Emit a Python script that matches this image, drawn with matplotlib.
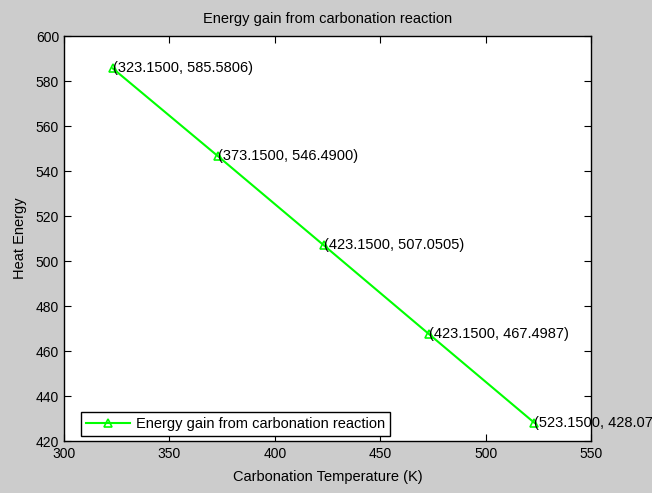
import matplotlib
matplotlib.use('Agg')
import matplotlib.pyplot as plt

# Data
temperature = [323.15, 373.15, 423.15, 473.15, 523.15]
heat_energy = [585.5806, 546.4900, 507.0505, 467.4987, 428.0707]
point_labels = ['(323.1500, 585.5806)', '(373.1500, 546.4900)', '(423.1500, 507.0505)',
                '(423.1500, 467.4987)', '(523.1500, 428.0707)']
x_ticks = [300, 350, 400, 450, 500, 550]
y_ticks = [420, 440, 460, 480, 500, 520, 540, 560, 580, 600]

plt.rcParams['font.family'] = ['Liberation Sans', 'DejaVu Sans']
plt.rcParams['font.size'] = 10

fig = plt.figure(figsize=(6.52, 4.93), dpi=100, facecolor='#cccccc')
ax = fig.add_axes([64 / 652, 1 - 441 / 493, 527 / 652, 405 / 493])
ax.set_facecolor('white')

ax.plot(temperature, heat_energy, color='#00ff00', lw=1.5, marker='^', ms=6,
        mfc='none', mec='#00ff00', mew=1.2, label='Energy gain from carbonation reaction')

for x, y, s in zip(temperature, heat_energy, point_labels):
    ax.text(x, y, s, ha='left', va='center', fontsize=10.5, clip_on=False)

ax.set_xlim(300, 550)
ax.set_ylim(420, 600)
ax.set_xticks(x_ticks)
ax.set_yticks(y_ticks)
ax.tick_params(direction='in', top=True, right=True, length=5, width=0.8, labelsize=10)
ax.tick_params(axis='x', pad=4)
for sp in ax.spines.values():
    sp.set_linewidth(1.0)

ax.set_title('Energy gain from carbonation reaction', fontsize=10.5, pad=9)
ax.set_xlabel('Carbonation Temperature (K)', fontsize=10.5, labelpad=7)
ax.set_ylabel('Heat Energy', fontsize=10.5, labelpad=6)

leg = ax.legend(loc='lower left', bbox_to_anchor=(17 / 527, 5 / 405), borderaxespad=0,
                fontsize=10.5, fancybox=False, framealpha=1, edgecolor='black',
                handlelength=3.0, borderpad=0.35, handletextpad=0.4)
leg.get_frame().set_linewidth(1.0)

fig.savefig('out.png', dpi=100, facecolor=fig.get_facecolor())
